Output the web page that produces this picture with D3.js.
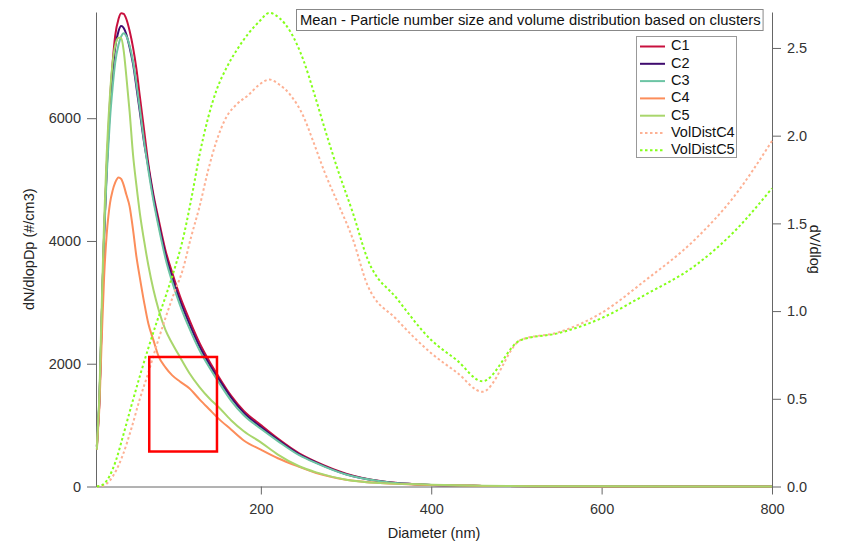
<!DOCTYPE html>
<html>
<head>
<meta charset="utf-8">
<script src="https://cdn.jsdelivr.net/npm/d3@7"></script>
<style>
	body { margin: 0; background: #fff; }
	text { font-family: "Liberation Sans", Arial, sans-serif; }
</style>
</head>
<body>
<script>
// Number size distributions (nm -> #/cm3).
var diameters = [7.5, 9, 10.5, 12, 14, 16, 19, 21, 23, 26, 29, 33, 36, 39, 42, 46, 50, 54, 58, 63, 68, 74, 80, 88, 96, 105, 116, 128, 140, 150, 165, 180, 200, 220, 245, 265, 300, 340, 400, 460, 520, 600, 700, 800];
var C1 = [650, 1000, 1400, 2100, 3150, 4100, 5200, 5750, 6300, 6900, 7340, 7620, 7710, 7700, 7620, 7420, 7150, 6800, 6350, 5800, 5250, 4750, 4350, 3850, 3480, 3100, 2720, 2340, 2030, 1800, 1480, 1230, 1000, 780, 540, 400, 210, 90, 25, 10, 5, 2, 1, 0];
var C2 = [650, 1000, 1400, 2100, 3150, 4100, 5150, 5700, 6200, 6750, 7150, 7420, 7500, 7470, 7370, 7150, 6880, 6500, 6100, 5600, 5200, 4700, 4280, 3780, 3400, 3030, 2650, 2280, 1980, 1760, 1450, 1200, 970, 760, 525, 390, 200, 85, 25, 10, 5, 2, 1, 0];
var C3 = [650, 1050, 1450, 2150, 3150, 4050, 5050, 5550, 6000, 6500, 6900, 7200, 7330, 7384, 7340, 7180, 6920, 6560, 6150, 5620, 5150, 4650, 4230, 3720, 3330, 2960, 2580, 2220, 1930, 1710, 1400, 1160, 940, 740, 510, 380, 195, 85, 25, 10, 5, 2, 1, 0];
var C4 = [600, 950, 1300, 1900, 2700, 3400, 4100, 4400, 4620, 4820, 4950, 5035, 5010, 4910, 4760, 4560, 4180, 3740, 3400, 3000, 2650, 2380, 2120, 1940, 1810, 1710, 1600, 1420, 1250, 1110, 930, 750, 600, 460, 320, 220, 110, 55, 25, 10, 5, 2, 1, 0];
var C5 = [600, 1050, 1500, 2300, 3350, 4300, 5400, 5950, 6400, 6900, 7180, 7310, 7310, 7100, 6700, 6100, 5400, 4900, 4450, 4000, 3600, 3200, 2880, 2550, 2330, 2110, 1850, 1620, 1430, 1300, 1080, 900, 720, 520, 330, 230, 110, 55, 30, 12, 6, 3, 1, 0];

// Volume distributions (right axis).
var volDiameters = [7.5, 15, 22, 30, 38, 48, 58, 68, 78, 88, 98, 108, 118, 128, 138, 148, 160, 172, 185, 198, 210, 222, 235, 250, 262, 275, 290, 308, 325, 360, 400, 430, 460, 505, 550, 600, 650, 710, 755, 800];
var VolDistC4 = [0, 0.005, 0.03, 0.09, 0.18, 0.33, 0.5, 0.65, 0.81, 0.96, 1.1, 1.23, 1.42, 1.595, 1.8, 1.97, 2.11, 2.18, 2.23, 2.29, 2.32, 2.29, 2.23, 2.11, 1.96, 1.79, 1.62, 1.41, 1.15, 0.95, 0.76, 0.65, 0.54, 0.835, 0.88, 0.99, 1.17, 1.41, 1.65, 1.97];
var VolDistC5 = [0, 0.012, 0.056, 0.15, 0.284, 0.46, 0.63, 0.79, 0.94, 1.08, 1.23, 1.4, 1.63, 1.89, 2.1, 2.26, 2.39, 2.49, 2.58, 2.65, 2.7, 2.67, 2.59, 2.43, 2.25, 2.04, 1.81, 1.56, 1.3, 1.07, 0.835, 0.72, 0.6, 0.835, 0.875, 0.96, 1.09, 1.26, 1.45, 1.7];

var xTicks = [200, 400, 600, 800];
var yLeftTicks = [0, 2000, 4000, 6000];
var yRightTicks = [0, 0.5, 1.0, 1.5, 2.0, 2.5];

// The red box someone drew on top (data units: nm, #/cm3).
var highlight = {x0: 69, x1: 148.5, y0: 570, y1: 2110};

var title = 'Mean - Particle number size and volume distribution based on clusters';

var numberSeries = [
	{name: 'C1', values: C1, color: '#c8103e'},
	{name: 'C2', values: C2, color: '#3f0b6e'},
	{name: 'C3', values: C3, color: '#6cc4a4'},
	{name: 'C4', values: C4, color: '#fc8d5a'},
	{name: 'C5', values: C5, color: '#a9d66c'}
];
var volumeSeries = [
	{name: 'VolDistC4', values: VolDistC4, color: '#fdb194'},
	{name: 'VolDistC5', values: VolDistC5, color: '#84ff1a'}
];

// Note: "top" clashes with window.top, so plot edges get their own names.
var W = 841, H = 545;
var plotLeft = 96, plotRight = 772, plotTop = 12, plotBottom = 486.5;
var fontSize = '14.5px';

var svg = d3.select('body').append('svg')
	.attr('width', W)
	.attr('height', H);

var x = d3.scaleLinear().domain([6.5, 800]).range([plotLeft, plotRight]);
var yL = d3.scaleLinear().domain([0, 7730]).range([plotBottom, plotTop]);
var yR = d3.scaleLinear().domain([0, 2.705]).range([plotBottom, plotTop]);

function styleAxis(g) {
	g.select('.domain').attr('stroke', '#666');
	g.selectAll('.tick line').attr('stroke', '#666');
	g.selectAll('.tick text')
		.attr('fill', '#333')
		.style('font-size', fontSize);
}

svg.append('g')
	.attr('transform', 'translate(0,' + plotBottom + ')')
	.call(d3.axisBottom(x).tickValues(xTicks).tickSize(8).tickPadding(9).tickSizeOuter(0))
	.call(styleAxis);

svg.append('g')
	.attr('transform', 'translate(' + plotLeft + ',0)')
	.call(d3.axisLeft(yL).tickValues(yLeftTicks).tickSize(9).tickPadding(6).tickSizeOuter(0).tickFormat(d3.format('d')))
	.call(styleAxis);

svg.append('g')
	.attr('transform', 'translate(' + plotRight + ',0)')
	.call(d3.axisRight(yR).tickValues(yRightTicks).tickSize(9).tickPadding(6).tickSizeOuter(0).tickFormat(d3.format('.1f')))
	.call(styleAxis);

// Axis titles.
svg.append('text')
	.attr('transform', 'translate(30,' + (plotTop + plotBottom) / 2 + ') rotate(-90)')
	.attr('text-anchor', 'middle')
	.attr('dominant-baseline', 'middle')
	.attr('fill', '#222')
	.style('font-size', fontSize)
	.text('dN/dlopDp (#/cm3)');

svg.append('text')
	.attr('transform', 'translate(814,' + (plotTop + plotBottom) / 2 + ') rotate(90)')
	.attr('text-anchor', 'middle')
	.attr('dominant-baseline', 'middle')
	.attr('fill', '#222')
	.style('font-size', fontSize)
	.text('dV/dlog');

svg.append('text')
	.attr('x', (plotLeft + plotRight) / 2)
	.attr('y', 538)
	.attr('text-anchor', 'middle')
	.attr('fill', '#222')
	.style('font-size', fontSize)
	.text('Diameter (nm)');

// Curves.
var lineL = d3.line()
	.x(function(d) { return x(d[0]); })
	.y(function(d) { return yL(d[1]); })
	.curve(d3.curveMonotoneX);
var lineR = d3.line()
	.x(function(d) { return x(d[0]); })
	.y(function(d) { return yR(d[1]); })
	.curve(d3.curveMonotoneX);

numberSeries.forEach(function(s) {
	svg.append('path')
		.datum(d3.zip(diameters, s.values))
		.attr('d', lineL)
		.attr('fill', 'none')
		.attr('stroke', s.color)
		.attr('stroke-width', 2);
});

volumeSeries.forEach(function(s) {
	svg.append('path')
		.datum(d3.zip(volDiameters, s.values))
		.attr('d', lineR)
		.attr('fill', 'none')
		.attr('stroke', s.color)
		.attr('stroke-width', 2)
		.attr('stroke-dasharray', '2.5,2.5');
});

// Title box.
var titleG = svg.append('g');
var titleText = titleG.append('text')
	.attr('x', 300)
	.attr('y', 25)
	.attr('fill', '#111')
	.style('font-size', '14.8px')
	.text(title);
var tb = titleText.node().getBBox();
titleG.insert('rect', 'text')
	.attr('x', tb.x - 3.5)
	.attr('y', 9.5)
	.attr('width', tb.width + 6)
	.attr('height', 21)
	.attr('fill', '#fff')
	.attr('stroke', '#888');

// Legend.
var legend = svg.append('g');
legend.append('rect')
	.attr('x', 636.5)
	.attr('y', 36.5)
	.attr('width', 100)
	.attr('height', 121)
	.attr('fill', '#fff')
	.attr('stroke', '#999');

numberSeries.concat(volumeSeries).forEach(function(s, i) {
	var ly = 46.5 + i * 17.3;
	legend.append('line')
		.attr('x1', 640).attr('x2', 665)
		.attr('y1', ly).attr('y2', ly)
		.attr('stroke', s.color)
		.attr('stroke-width', 2)
		.attr('stroke-dasharray', i >= numberSeries.length ? '2.5,2.5' : null);
	legend.append('text')
		.attr('x', 671)
		.attr('y', ly)
		.attr('dominant-baseline', 'middle')
		.attr('fill', '#111')
		.style('font-size', fontSize)
		.text(s.name);
});

// Red annotation box.
svg.append('rect')
	.attr('x', x(highlight.x0))
	.attr('y', yL(highlight.y1))
	.attr('width', x(highlight.x1) - x(highlight.x0))
	.attr('height', yL(highlight.y0) - yL(highlight.y1))
	.attr('fill', 'none')
	.attr('stroke', '#ff0000')
	.attr('stroke-width', 2.5);
</script>
</body>
</html>
